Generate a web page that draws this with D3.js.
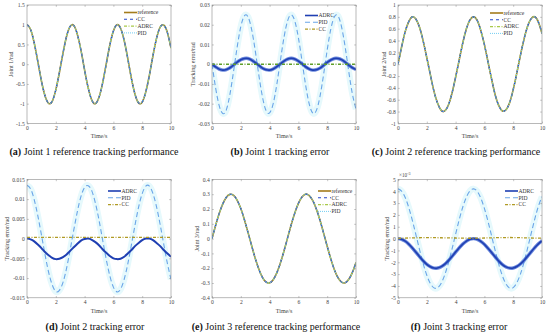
<!DOCTYPE html>
<html>
<head>
<meta charset="utf-8">
<script src="https://cdn.jsdelivr.net/npm/d3@7"></script>
<style>
  body { margin: 0; background: #fff; }
  svg text { font-family: "Liberation Serif", "DejaVu Serif", serif !important; }
</style>
</head>
<body>
<div id="wrapper"></div>
<script>
// sample times (s)
const time = [0,0.25,0.5,0.75,1,1.25,1.5,1.75,2,2.25,2.5,2.75,3,3.25,3.5,3.75,4,4.25,4.5,4.75,5,
  5.25,5.5,5.75,6,6.25,6.5,6.75,7,7.25,7.5,7.75,8,8.25,8.5,8.75,9,9.25,9.5,9.75,10];
const timeCoarse = [0,1,2,3,4,5,6,7,8,9,10];
const xTicks = [0,2,4,6,8,10];

const ref1 = [1,0.88,0.54,0.07,-0.42,-0.8,-0.99,-0.94,-0.65,-0.21,0.28,0.71,0.96,0.98,0.75,0.35,-0.15,-0.6,-0.91,-1,-0.84,
  -0.48,0,0.48,0.84,1,0.91,0.6,0.14,-0.36,-0.76,-0.98,-0.96,-0.7,-0.28,0.22,0.66,0.94,0.99,0.8,0.41];
const ref2 = [0,0.29,0.55,0.72,0.8,0.76,0.62,0.39,0.11,-0.18,-0.46,-0.66,-0.78,-0.79,-0.69,-0.49,-0.22,0.07,0.36,0.6,0.75,
  0.8,0.74,0.57,0.33,0.04,-0.25,-0.52,-0.7,-0.79,-0.77,-0.65,-0.43,-0.15,0.15,0.42,0.64,0.77,0.8,0.71,0.52];
const ref3 = [0,0.089,0.17,0.235,0.28,0.299,0.292,0.259,0.203,0.128,0.042,-0.047,-0.133,-0.206,-0.262,-0.293,-0.299,-0.278,-0.232,-0.165,-0.084,
  0.005,0.094,0.173,0.238,0.281,0.3,0.291,0.257,0.199,0.124,0.037,-0.052,-0.137,-0.21,-0.264,-0.294,-0.298,-0.275,-0.228,-0.161];

// tracking errors (rad)
const pidErr1 = [0,-0.012,-0.021,-0.025,-0.023,-0.015,-0.0035,0.0088,0.019,0.0245,0.024,0.0177,0.007,-0.0054,-0.0164,-0.0235,-0.0247,-0.02,-0.0103,0.0019,0.0136,
  0.022,0.025,0.0219,0.0134,0.0017,-0.0105,-0.0201,-0.0248,-0.0234,-0.0163,-0.0052,0.0072,0.0178,0.024,0.0245,0.0188,0.0086,-0.0038,-0.0151,-0.0228];
const adrcErr1 = [0,-0.0014,-0.0025,-0.003,-0.0027,-0.0018,-0.0004,0.0011,0.0023,0.0029,0.0029,0.0021,0.0008,-0.0006,-0.002,-0.0028,-0.003,-0.0024,-0.0012,0.0002,0.0016,
  0.0026,0.003,0.0026,0.0016,0.0002,-0.0013,-0.0024,-0.003,-0.0028,-0.002,-0.0006,0.0009,0.0021,0.0029,0.0029,0.0023,0.001,-0.0005,-0.0018,-0.0027];
const ccErr1 = [0,0,0,0,0,0,0,0,0,0,0];

const pidErr2 = [0.0135,0.0126,0.0099,0.0058,0.001,-0.004,-0.0085,-0.0117,-0.0134,-0.0131,-0.0111,-0.0075,-0.0028,0.0022,0.0069,0.0107,0.013,0.0134,0.0121,0.009,0.0047,
  -0.0003,-0.0052,-0.0094,-0.0123,-0.0135,-0.0128,-0.0103,-0.0064,-0.0016,0.0034,0.008,0.0114,0.0133,0.0133,0.0114,0.008,0.0035,-0.0015,-0.0063,-0.0103];
const adrcErr2 = [0,-0.0002,-0.0007,-0.0015,-0.0024,-0.0034,-0.0042,-0.0049,-0.0052,-0.0051,-0.0047,-0.004,-0.0031,-0.0022,-0.0013,-0.0005,-0.0001,0,-0.0003,-0.0009,-0.0017,
  -0.0027,-0.0036,-0.0044,-0.005,-0.0052,-0.0051,-0.0046,-0.0038,-0.0029,-0.0019,-0.0011,-0.0004,0,0,-0.0004,-0.0011,-0.0019,-0.0029,-0.0038,-0.0046];
const ccErr2 = [0.0003,0.0003,0.0003,0.0003,0.0003,0.0003,0.0003,0.0003,0.0003,0.0003,0.0003];

// joint 3 errors in units of 1e-3 rad
const pidErr3 = [4.2,4.01,3.47,2.61,1.52,0.3,-0.95,-2.12,-3.1,-3.8,-4.16,-4.15,-3.77,-3.05,-2.06,-0.89,0.37,1.59,2.67,3.51,4.03,
  4.2,3.99,3.42,2.55,1.46,0.23,-1.02,-2.18,-3.15,-3.83,-4.17,-4.14,-3.73,-3,-2,-0.81,0.44,1.66,2.73,3.54];
const adrcErr3 = [0,-0.06,-0.22,-0.47,-0.8,-1.16,-1.53,-1.88,-2.17,-2.38,-2.49,-2.48,-2.37,-2.16,-1.86,-1.51,-1.14,-0.78,-0.46,-0.21,-0.05,
  0,-0.06,-0.23,-0.49,-0.82,-1.18,-1.55,-1.9,-2.19,-2.39,-2.49,-2.48,-2.36,-2.14,-1.85,-1.49,-1.12,-0.76,-0.44,-0.2];
const ccErr3 = [0.02,0.06,0.08,0.07,0.05,0.03,0.05,0.08,0.09,0.06,0.03];

// y ticks
const yTicksA = [-1.5,-1,-0.5,0,0.5,1,1.5];
const yTicksB = [-0.03,-0.02,-0.01,0,0.01,0.02,0.03];
const yTicksC = [-1,-0.8,-0.6,-0.4,-0.2,0,0.2,0.4,0.6,0.8,1];
const yTicksD = [-0.015,-0.01,-0.005,0,0.005,0.01,0.015];
const yTicksE = [-0.4,-0.3,-0.2,-0.1,0,0.1,0.2,0.3,0.4];
const yTicksF = [-5,-4,-3,-2,-1,0,1,2,3,4,5];

// line styles
const styles = {
  reference: { color: '#a47c1c', width: 1.6, dash: null },
  CC:        { color: '#2747c8', width: 1.1, dash: '3,3' },
  ADRC:      { color: '#a9c94a', width: 1.2, dash: '3,1.5,1,1.5' },
  PID:       { color: '#72cdf2', width: 1, dash: '1,1' },
  ADRCe:     { color: '#1f3fb2', width: 1.6, dash: null },
  PIDe:      { color: '#6aa5e8', width: 1.1, dash: '5,3' },
  CCe:       { color: '#b09a24', width: 1.3, dash: '3,1.5,1,1.5' }
};

const SERIF = '"Liberation Serif", "DejaVu Serif", serif';
const W = 550, H = 332;
const svg = d3.select('#wrapper').append('svg')
  .attr('width', W).attr('height', H)
  .attr('font-family', SERIF);

const panels = [
  { id: 'a', x: 27, y: 5, yDom: [-1.5, 1.5], yTicks: yTicksA, yLabel: 'Joint 1/rad', ylx: 11,
    caption: ' Joint 1 reference tracking performance', capX: 94, capY: 155,
    series: [['reference', time, ref1], ['ADRC', time, ref1], ['CC', time, ref1], ['PID', time, ref1]],
    legend: { x: 124, y: 12.5, items: ['reference', 'CC', 'ADRC', 'PID'] } },
  { id: 'b', x: 212, y: 5, yDom: [-0.03, 0.03], yTicks: yTicksB, yLabel: 'Tracking error/rad', ylx: 193,
    caption: ' Joint 1 tracking error', capX: 280, capY: 155,
    series: [['PIDe', time, pidErr1], ['ADRCe', time, adrcErr1], ['CCe', timeCoarse, ccErr1, '#5f9f2a']],
    legend: { x: 305, y: 15.5, items: [['ADRCe', 'ADRC'], ['PIDe', 'PID'], ['CCe', 'CC']] } },
  { id: 'c', x: 398, y: 5, yDom: [-1, 1], yTicks: yTicksC, yLabel: 'Joint 2/rad', ylx: 384,
    caption: ' Joint 2 reference tracking performance', capX: 456, capY: 155,
    series: [['reference', time, ref2], ['ADRC', time, ref2], ['CC', time, ref2], ['PID', time, ref2]],
    legend: { x: 490, y: 13, items: ['reference', 'CC', 'ADRC', 'PID'] } },
  { id: 'd', x: 27, y: 179.4, yDom: [-0.015, 0.015], yTicks: yTicksD, yLabel: 'Tracking error/rad', ylx: 7,
    caption: '  Joint 2 tracking error', capX: 95, capY: 329.5,
    series: [['PIDe', time, pidErr2], ['ADRCe', time, adrcErr2], ['CCe', timeCoarse, ccErr2]],
    legend: { x: 108, y: 191, items: [['ADRCe', 'ADRC'], ['PIDe', 'PID'], ['CCe', 'CC']] } },
  { id: 'e', x: 212, y: 179.4, yDom: [-0.4, 0.4], yTicks: yTicksE, yLabel: 'Joint 3/rad', ylx: 197,
    caption: ' Joint 3 reference tracking performance', capX: 276, capY: 329.5,
    series: [['reference', time, ref3], ['ADRC', time, ref3], ['CC', time, ref3], ['PID', time, ref3]],
    legend: { x: 318, y: 191, items: ['reference', 'CC', 'ADRC', 'PID'] } },
  { id: 'f', x: 398, y: 179.4, yDom: [-5, 5], yTicks: yTicksF, yLabel: 'Tracking error/rad', ylx: 387,
    caption: ' Joint 3 tracking error', capX: 459, capY: 329.5, exponent: true,
    series: [['PIDe', time, pidErr3], ['ADRCe', time, adrcErr3], ['CCe', timeCoarse, ccErr3]],
    legend: { x: 505, y: 191, items: [['ADRCe', 'ADRC'], ['PIDe', 'PID'], ['CCe', 'CC']] } }
];

const pw = 144, ph = 118.4;

panels.forEach(p => drawPanel(p));

function drawPanel(p) {
  const g = svg.append('g').attr('transform', `translate(${p.x},${p.y})`);

  const xScale = d3.scaleLinear().domain([0, 10]).range([0, pw]);
  const yScale = d3.scaleLinear().domain(p.yDom).range([ph, 0]);

  g.append('clipPath').attr('id', 'clip-' + p.id)
    .append('rect').attr('width', pw).attr('height', ph);

  // lines first, frame and ticks on top
  const plot = g.append('g').attr('clip-path', `url(#clip-${p.id})`);
  p.series.forEach(([key, tx, vals, colorOverride]) => {
    const st = styles[key];
    const line = d3.line()
      .curve(d3.curveNatural)
      .x((d, i) => xScale(tx[i]))
      .y(d => yScale(d));
    if (key === 'PIDe') {
      // pale halo of the noisy PID trace
      plot.append('path').attr('d', line(vals))
        .attr('fill', 'none').attr('stroke', '#e6f9fc').attr('stroke-width', 6.5);
    }
    if (key === 'ADRCe' && p.id !== 'd') {
      // noisy band
      plot.append('path').attr('d', line(vals))
        .attr('fill', 'none').attr('stroke', '#3a62d2').attr('stroke-width', 3.4)
        .attr('stroke-opacity', 0.75);
    }
    plot.append('path').attr('d', line(vals))
      .attr('fill', 'none')
      .attr('stroke', colorOverride || st.color)
      .attr('stroke-width', key === 'ADRCe' && p.id === 'd' ? 2 : (colorOverride ? 1.5 : st.width))
      .attr('stroke-dasharray', st.dash);
  });

  // axes (ticks point inward, matlab style)
  const fmt = d => String(d);
  const axes = [
    [d3.axisLeft(yScale).tickValues(p.yTicks).tickFormat(fmt), 0, 0],
    [d3.axisRight(yScale).tickValues(p.yTicks).tickFormat(''), pw, 0],
    [d3.axisBottom(xScale).tickValues(xTicks).tickFormat(fmt), 0, ph],
    [d3.axisTop(xScale).tickValues(xTicks).tickFormat(''), 0, 0]
  ];
  axes.forEach(([ax, tx, ty]) => {
    ax.tickSizeInner(-1.8).tickSizeOuter(0).tickPadding(2.2);
    const a = g.append('g').attr('transform', `translate(${tx},${ty})`).call(ax)
      .attr('font-family', SERIF);
    a.select('.domain').remove();
    a.selectAll('line').attr('stroke', '#8a8a8a').attr('stroke-width', 0.5);
    a.selectAll('text').attr('font-size', 5.6).attr('fill', '#444');
  });

  g.append('rect').attr('width', pw).attr('height', ph)
    .attr('fill', 'none').attr('stroke', '#8a8a8a').attr('stroke-width', 0.6);

  // legend
  const lg = svg.append('g').attr('transform', `translate(${p.legend.x},${p.legend.y})`);
  p.legend.items.forEach((it, i) => {
    const key = Array.isArray(it) ? it[0] : it;
    const name = Array.isArray(it) ? it[1] : it;
    const st = styles[key];
    const yy = i * 6.8;
    lg.append('line').attr('x1', 0).attr('x2', 13).attr('y1', yy).attr('y2', yy)
      .attr('stroke', st.color).attr('stroke-width', st.width).attr('stroke-dasharray', st.dash);
    lg.append('text').attr('x', 13.5).attr('y', yy).attr('dy', '0.33em')
      .attr('font-size', 5.6).attr('fill', '#333').text(name);
  });

  // labels
  g.append('text').attr('x', pw / 2).attr('y', ph + 15)
    .attr('text-anchor', 'middle').attr('font-size', 6).attr('fill', '#444').text('Time/s');
  svg.append('text')
    .attr('transform', `translate(${p.ylx},${p.y + ph / 2}) rotate(-90)`)
    .attr('text-anchor', 'middle').attr('dy', '0.35em')
    .attr('font-size', 6).attr('fill', '#444').text(p.yLabel);

  if (p.exponent) {
    const e = g.append('text').attr('x', 1).attr('y', -2.5).attr('font-size', 5.2).attr('fill', '#444');
    e.append('tspan').text('\u00d710');
    e.append('tspan').attr('dy', -2).attr('font-size', 4).text('-3');
  }

  // caption
  const cap = svg.append('text').attr('x', p.capX).attr('y', p.capY)
    .attr('text-anchor', 'middle').attr('font-size', 10).attr('fill', '#111');
  cap.append('tspan').attr('font-weight', 'bold').text('(' + p.id + ')');
  cap.append('tspan').text(p.caption);
}
</script>
</body>
</html>
